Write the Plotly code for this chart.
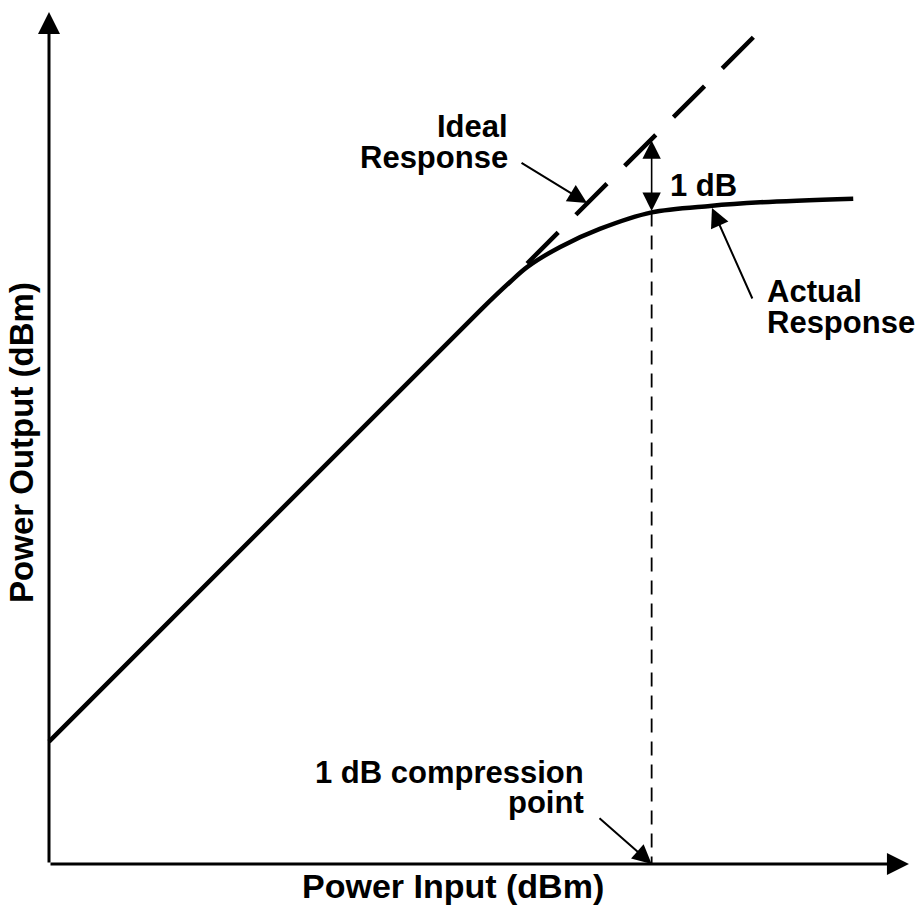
import plotly.graph_objects as go

# ---------------- data (dBm) ----------------
# axis extents: origin and arrow-tip of each axis
pin_axis = [-10.0, 1.944]
pout_axis = [0.0, 11.833]

# actual (compressing) amplifier response
pin_actual = [-10.0, -4.0, -3.6, -3.36, -2.9, -2.35, -1.63, -0.82, -0.12, 1.17]
pout_actual = [1.70, 7.70, 8.08, 8.29, 8.57, 8.82, 9.05, 9.14, 9.19, 9.24]

# ideal (linear) response, shown dashed beyond the knee
pin_ideal = [-3.36, -0.18]
pout_ideal = [8.34, 11.52]

# 1 dB compression point
p1db_in = -1.63
p1db_out_actual = 9.05
p1db_out_ideal = 10.05

# visible window of the drawing
x_range = [-10.6806, 2.0556]
y_range = [-0.5833, 12.0]

FONT = "Liberation Sans, Arial, sans-serif"

fig = go.Figure()

# actual response
fig.add_trace(go.Scatter(
    x=pin_actual, y=pout_actual, mode="lines",
    line=dict(color="black", width=4.5, shape="spline", smoothing=0.9),
    hoverinfo="skip"))

# ideal response (dashed)
fig.add_trace(go.Scatter(
    x=pin_ideal, y=pout_ideal, mode="lines",
    line=dict(color="black", width=4.5, dash="44px,25px"),
    hoverinfo="skip"))

# vertical dashed drop line at the compression point
fig.add_trace(go.Scatter(
    x=[p1db_in, p1db_in], y=[p1db_out_actual, pout_axis[0]], mode="lines",
    line=dict(color="black", width=1.8, dash="14px,9px"),
    hoverinfo="skip"))

ann = []

def arrow(x, y, ax, ay, width, size, side="end", standoff=0):
    ann.append(dict(
        x=x, y=y, ax=ax, ay=ay, xref="x", yref="y", axref="x", ayref="y",
        text="", showarrow=True, arrowhead=2, startarrowhead=2,
        arrowwidth=width, arrowsize=size, startarrowsize=size,
        arrowside=side, arrowcolor="black",
        standoff=standoff, startstandoff=standoff))

# axes with arrow heads
arrow(pin_axis[1], pout_axis[0], pin_axis[0], pout_axis[0], 3, 4.4 / 3)
arrow(pin_axis[0], pout_axis[1], pin_axis[0], pout_axis[0], 3, 4.4 / 3)

# 1 dB double arrow
arrow(p1db_in, p1db_out_ideal, p1db_in, p1db_out_actual, 1.6, 2.3, side="end+start")

# pointer arrows
arrow(-2.528, 9.181, -3.458, 9.75, 2, 1.9)      # ideal response
arrow(-0.792, 9.111, -0.222, 7.833, 2, 1.9)     # actual response
arrow(p1db_in, pout_axis[0], -2.375, 0.653, 2, 1.9)  # compression point

def label(text, x, y, xanchor, size=31, angle=0):
    ann.append(dict(
        x=x, y=y, xref="x", yref="y", text=text, showarrow=False,
        xanchor=xanchor, yanchor="middle", textangle=angle,
        font=dict(family=FONT, size=size, color="black", weight="bold")))

label("Ideal", -3.60, 10.243, "right")
label("Response", -3.60, 9.8125, "right")
label("1 dB", -1.403, 9.43, "left")
label("Actual", -0.055, 7.958, "left")
label("Response", -0.055, 7.521, "left")
label("1 dB compression", -2.543, 1.271, "right")
label("point", -2.543, 0.861, "right")
label("Power Input (dBm)", -4.389, -0.305, "center", size=34)
label("Power Output (dBm)", -10.39, 5.861, "center", size=33, angle=-90)

fig.update_layout(
    width=917, height=906,
    margin=dict(l=0, r=0, t=0, b=0),
    paper_bgcolor="white", plot_bgcolor="white",
    showlegend=False,
    xaxis=dict(range=x_range, visible=False, fixedrange=True),
    yaxis=dict(range=y_range, visible=False, fixedrange=True),
    annotations=ann,
)

fig.write_html(
    "out.html",
    config={"displayModeBar": False},
    post_script="document.body.style.margin='0';document.body.style.overflow='hidden';",
)
